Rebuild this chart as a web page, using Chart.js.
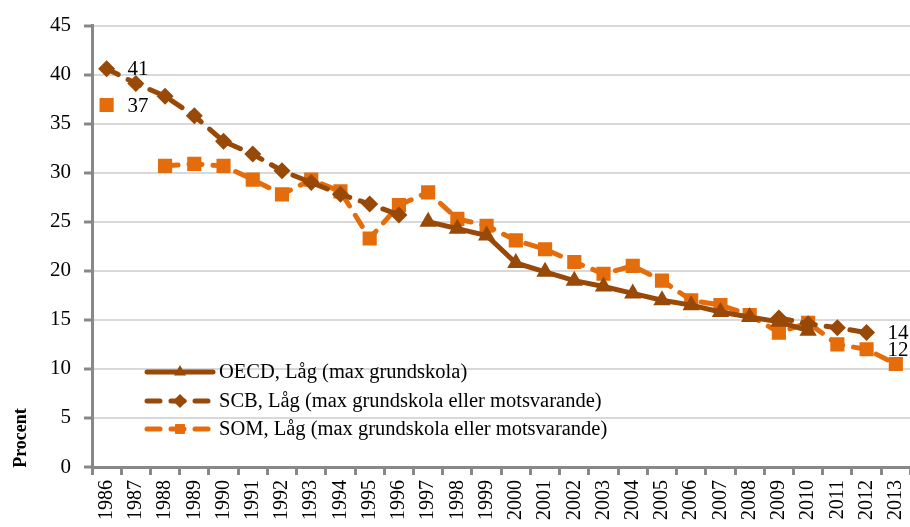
<!DOCTYPE html>
<html>
<head>
<meta charset="utf-8">
<script src="https://cdn.jsdelivr.net/npm/chart.js@4.4.1/dist/chart.umd.min.js"></script>
<style>
  html, body { margin: 0; padding: 0; background: #fff; overflow: hidden; }
  #wrap { position: relative; width: 925px; height: 527px; }
</style>
</head>
<body>
<div id="wrap"><canvas id="chart"></canvas></div>
<script>
// Data
const years = ['1986', '1987', '1988', '1989', '1990', '1991', '1992', '1993', '1994', '1995',
    '1996', '1997', '1998', '1999', '2000', '2001', '2002', '2003', '2004', '2005',
    '2006', '2007', '2008', '2009', '2010', '2011', '2012', '2013'];

const oecd = [null, null, null, null, null, null, null, null, null, null,
    null, 25.0, 24.3, 23.6, 20.8, 19.9, 19.0, 18.4, 17.7, 17.0,
    16.5, 15.8, 15.3, 14.8, 13.9, null, null, null];

const scb = [40.6, 39.1, 37.8, 35.8, 33.2, 31.9, 30.2, 29.0, 27.8, 26.8,
    25.7, null, null, null, null, null, null, null, null, null,
    null, null, null, 15.2, 14.6, 14.2, 13.7, null];

const som = [36.9, null, 30.7, 30.9, 30.7, 29.3, 27.8, 29.3, 28.1, 23.3,
    26.7, 28.0, 25.3, 24.6, 23.1, 22.2, 20.9, 19.7, 20.5, 19.0,
    17.0, 16.5, 15.5, 13.7, 14.7, 12.5, 12.0, 10.5];

const yTicks = [0, 5, 10, 15, 20, 25, 30, 35, 40, 45];

// which points carry a value label
const labelPoints = [
    { dataset: 1, index: 0, text: '41' },
    { dataset: 2, index: 0, text: '37' },
    { dataset: 1, index: 26, text: '14' },
    { dataset: 2, index: 26, text: '12' }
];

const BROWN = '#984807';
const ORANGE = '#E46C0A';
const FONT = "'Liberation Serif', 'Times New Roman', serif";

// legend inside plot + value labels + axis title
const extras = {
    id: 'extras',
    afterDatasetsDraw(chart) {
        const ctx = chart.ctx;
        ctx.save();
        ctx.fillStyle = '#000';
        ctx.font = '21px ' + FONT;
        ctx.textBaseline = 'middle';
        ctx.textAlign = 'left';
        labelPoints.forEach(l => {
            const pt = chart.getDatasetMeta(l.dataset).data[l.index];
            ctx.fillText(l.text, pt.x + 21, pt.y + 1);
        });

        // legend
        const rows = [372, 401, 429];
        chart.data.datasets.forEach((ds, i) => {
            const y = rows[i];
            ctx.save();
            ctx.strokeStyle = ds.borderColor;
            ctx.lineWidth = 5;
            ctx.lineCap = 'round';
            ctx.setLineDash(ds.borderDash || []);
            ctx.beginPath();
            ctx.moveTo(147, y);
            ctx.lineTo(213, y);
            ctx.stroke();
            ctx.setLineDash([]);
            ctx.fillStyle = ds.pointBackgroundColor;
            Chart.helpers.drawPoint(ctx, { pointStyle: ds.pointStyle, radius: 7, borderWidth: 0 }, 180, y);
            ctx.restore();
            ctx.fillStyle = '#000';
            ctx.font = '20.5px ' + FONT;
            ctx.fillText(ds.label, 219, y + 1);
        });

        // y title
        ctx.translate(21, 438);
        ctx.rotate(-Math.PI / 2);
        ctx.textAlign = 'center';
        ctx.font = 'bold 18px ' + FONT;
        ctx.fillText('Procent', 0, 0);
        ctx.restore();
    }
};

new Chart(document.getElementById('chart'), {
    type: 'line',
    data: {
        labels: years,
        datasets: [
            {
                label: 'OECD, Låg (max grundskola)',
                data: oecd,
                borderColor: BROWN,
                borderWidth: 5,
                pointStyle: 'triangle',
                pointRadius: 10,
                pointBackgroundColor: BROWN,
                pointBorderWidth: 0,
                tension: 0
            },
            {
                label: 'SCB, Låg (max grundskola eller motsvarande)',
                data: scb,
                borderColor: BROWN,
                borderWidth: 5,
                borderDash: [13, 11],
                borderCapStyle: 'round',
                pointStyle: 'rectRot',
                pointRadius: 8.5,
                pointBackgroundColor: BROWN,
                pointBorderWidth: 0,
                tension: 0
            },
            {
                label: 'SOM, Låg (max grundskola eller motsvarande)',
                data: som,
                borderColor: ORANGE,
                borderWidth: 5,
                borderDash: [13, 11],
                borderCapStyle: 'round',
                pointStyle: 'rect',
                pointRadius: 10,
                pointBackgroundColor: ORANGE,
                pointBorderWidth: 0,
                tension: 0
            }
        ]
    },
    options: {
        responsive: true,
        maintainAspectRatio: false,
        animation: false,
        layout: { padding: { top: 19, right: 0, left: 0, bottom: 0 } },
        plugins: {
            legend: { display: false },
            tooltip: { enabled: false }
        },
        scales: {
            x: {
                offset: true,
                grid: {
                    offset: true,
                    drawOnChartArea: false,
                    tickLength: 8,
                    tickWidth: 3,
                    tickColor: '#888'
                },
                border: { color: '#888', width: 3 },
                ticks: {
                    color: '#000',
                    font: { family: FONT, size: 20 },
                    minRotation: 90,
                    maxRotation: 90,
                    autoSkip: false,
                    padding: 5
                },
                afterFit(scale) { scale.height = 60; }
            },
            y: {
                min: 0,
                max: 45,
                afterBuildTicks(scale) { scale.ticks = yTicks.map(v => ({ value: v })); },
                grid: {
                    color: '#d9d9d9',
                    lineWidth: 2,
                    tickLength: 8,
                    tickWidth: 3,
                    tickColor: '#888'
                },
                border: { color: '#888', width: 3 },
                ticks: {
                    color: '#000',
                    font: { family: FONT, size: 21 },
                    padding: 13
                },
                afterFit(scale) { scale.width = 92; }
            }
        }
    },
    plugins: [extras]
});
</script>
</body>
</html>
